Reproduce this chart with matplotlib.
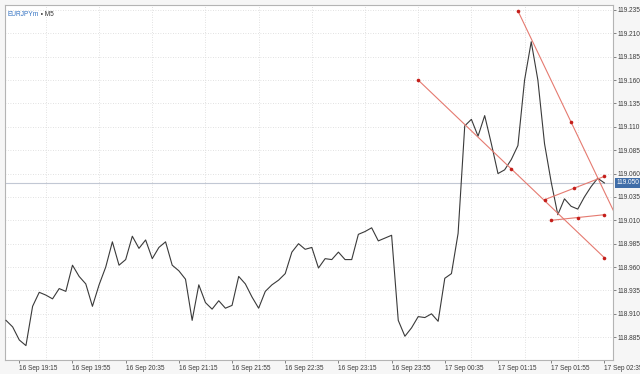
import matplotlib
matplotlib.use("Agg")
import matplotlib.pyplot as plt
import pandas as pd

# M5 closes, EURJPYm, 16 Sep 19:05 -> 17 Sep 02:35
start = "2019-09-16 19:05"
close = [118.903, 118.896, 118.882, 118.876, 118.918, 118.933, 118.930, 118.926, 118.937, 118.934,
         118.962, 118.950, 118.942, 118.918, 118.941, 118.960, 118.987, 118.962, 118.968, 118.993,
         118.980, 118.989, 118.969, 118.981, 118.987, 118.962, 118.956, 118.947, 118.903, 118.941,
         118.922, 118.915, 118.924, 118.916, 118.919, 118.950, 118.942, 118.928, 118.916, 118.934,
         118.941, 118.946, 118.953, 118.976, 118.985, 118.979, 118.981, 118.959, 118.969, 118.968,
         118.976, 118.968, 118.968, 118.995, 118.998, 119.002, 118.988, 118.991, 118.994, 118.903,
         118.886, 118.895, 118.907, 118.906, 118.910, 118.902, 118.948, 118.953, 118.996, 119.111,
         119.118, 119.100, 119.122, 119.092, 119.060, 119.064, 119.075, 119.090, 119.160, 119.201,
         119.160, 119.092, 119.051, 119.016, 119.033, 119.025, 119.022, 119.035, 119.046, 119.055,
         119.050]
bid = 119.050

tick_labels = ["16 Sep 19:15", "16 Sep 19:55", "16 Sep 20:35", "16 Sep 21:15", "16 Sep 21:55",
               "16 Sep 22:35", "16 Sep 23:15", "16 Sep 23:55", "17 Sep 00:35", "17 Sep 01:15",
               "17 Sep 01:55", "17 Sep 02:35"]
price_ticks = [118.885, 118.910, 118.935, 118.960, 118.985, 119.010, 119.035, 119.060,
               119.085, 119.110, 119.135, 119.160, 119.185, 119.210, 119.235]

# trend lines: (start time, start price, end time, end price)
trend_t0 = ["2019-09-17 00:15", "2019-09-17 01:30", "2019-09-17 01:50", "2019-09-17 01:55"]
trend_p0 = [119.160, 119.234, 119.032, 119.010]
trend_t1 = ["2019-09-17 02:35", "2019-09-17 02:50", "2019-09-17 02:35", "2019-09-17 02:35"]
trend_p1 = [118.970, 118.996, 119.057, 119.016]

t0 = pd.Timestamp(start)
step = pd.Timedelta("5min")
times = pd.date_range(start, periods=len(close), freq="5min")
labels_all = list(times.strftime("%d Sep %H:%M"))
tick_pos = [labels_all.index(l) for l in tick_labels]
grid_pos = list(range(tick_pos[0], len(close) + 2, 4))

def bar_of(t):
    return (pd.Timestamp(t) - t0) / step

plt.rcParams["font.family"] = ["Liberation Sans", "DejaVu Sans"]

fig = plt.figure(figsize=(6.4, 3.74), dpi=100, facecolor="#f6f6f6")
ax = fig.add_axes([5 / 640, 14 / 374, 608 / 640, 355 / 374])
ax.set_facecolor("white")

ax.plot(range(len(close)), close, color="#3a3a3a", lw=0.8, zorder=3)
ax.axhline(bid, color="#c2c8d4", lw=0.8, zorder=2)

for a, pa, b, pb in zip(trend_t0, trend_p0, trend_t1, trend_p1):
    xa, xb = bar_of(a), bar_of(b)
    ax.plot([xa, xb], [pa, pb], color="#e57a70", lw=0.8, zorder=4)
    ax.plot([xa, (xa + xb) / 2, xb], [pa, (pa + pb) / 2, pb], "o", color="#c41e1a",
            ms=2.6, mew=0, zorder=5)

ax.set_xlim(-0.15, 91.3)
ax.set_ylim(118.8606, 119.2403)

ax.yaxis.tick_right()
ax.set_yticks(price_ticks)
ax.set_yticklabels(["%.3f" % p for p in price_ticks])
ax.set_xticks(grid_pos, minor=True)
ax.set_xticks(tick_pos)
ax.set_xticklabels(tick_labels, ha="left")
ax.tick_params(axis="both", labelsize=4.7, colors="#555555", labelcolor="#3a3a3a",
               length=2, width=0.5, pad=1.5)
ax.tick_params(axis="x", which="minor", length=0)

ax.grid(True, which="minor", axis="x", color="#d8d8d8", lw=0.6, ls=(0, (1, 2)))
ax.grid(True, which="major", axis="y", color="#d8d8d8", lw=0.6, ls=(0, (1, 2)))
for s in ax.spines.values():
    s.set_color("#b4b4b4")
    s.set_linewidth(0.8)

ax.annotate("%.3f" % bid, xy=(1, bid), xycoords=("axes fraction", "data"),
            xytext=(2.5, 0), textcoords="offset points", ha="left", va="center",
            fontsize=4.7, color="white",
            bbox=dict(boxstyle="square,pad=0.25", fc="#3f6da8", ec="none"))

sym = ax.text(0.004, 0.982, "EURJPYm", transform=ax.transAxes, ha="left", va="top",
              fontsize=4.7, color="#2f6fc0")
ax.annotate(" \u2022 M5", xy=(1, 0), xycoords=sym, ha="left", va="bottom",
            fontsize=4.7, color="#333333")

fig.savefig("out.png", dpi=100, facecolor=fig.get_facecolor())
